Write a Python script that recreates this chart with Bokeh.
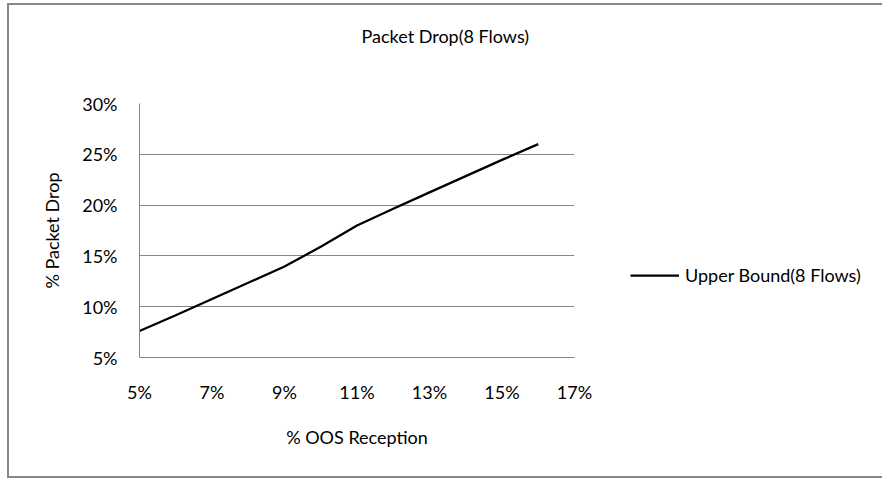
from bokeh.plotting import figure
from bokeh.models import FixedTicker, PrintfTickFormatter, Legend, LegendItem, Title
from bokeh.embed import file_html
from bokeh.resources import INLINE

# % out-of-sequence reception vs. % packet drop, upper bound for 8 flows
oos_pct = [5, 6, 7, 8, 9, 10, 11, 12, 13, 14, 15, 16]
drop_pct = [7.6, 9.15, 10.75, 12.35, 13.95, 15.9, 18.0, 19.65, 21.25, 22.85, 24.45, 26.0]
series_name = "Upper Bound(8 Flows)"

x_ticks = [5, 7, 9, 11, 13, 15, 17]
y_ticks = [5, 10, 15, 20, 25, 30]

FONT = "Lato"
TXT = "18px"
GREY = "#878787"

p = figure(frame_width=435, frame_height=254, x_range=(5, 17), y_range=(5, 30),
           output_backend="svg", toolbar_location=None,
           min_border_left=139, min_border_right=308,
           min_border_top=103, min_border_bottom=121,
           title="Packet Drop(8 Flows)")
p.background_fill_color = "white"
p.border_fill_alpha = 0
p.outline_line_color = None

# chart-area frame (left, top and bottom edges) painted behind the canvas
bar = f"linear-gradient({GREY}, {GREY})"
p.styles = {
    "background": (f"{bar} 7px 3px / 880px 2px no-repeat, "
                   f"{bar} 7px 3px / 2px 475px no-repeat, "
                   f"{bar} 7px 476px / 880px 2px no-repeat, white"),
}

# title, lifted away from the plot area by a blank spacer panel
p.title.text_font = FONT
p.title.text_font_size = TXT
p.title.text_font_style = "normal"
p.title.text_color = "black"
p.title.align = "left"
p.title.offset = 222
p.title.standoff = 10
p.add_layout(Title(text=" ", text_font=FONT, text_font_size=TXT, standoff=28), "above")

# axes
for ax in (p.xaxis[0], p.yaxis[0]):
    ax.major_label_text_font = FONT
    ax.major_label_text_font_size = TXT
    ax.major_label_text_color = "black"
    ax.axis_label_text_font = FONT
    ax.axis_label_text_font_size = TXT
    ax.axis_label_text_font_style = "normal"
    ax.axis_label_text_color = "black"
    ax.major_tick_line_color = None
    ax.minor_tick_line_color = None
    ax.major_tick_out = 0
    ax.major_tick_in = 0
    ax.axis_line_color = GREY
    ax.axis_line_width = 1
    ax.formatter = PrintfTickFormatter(format="%d%%")

p.xaxis.ticker = FixedTicker(ticks=x_ticks)
p.yaxis.ticker = FixedTicker(ticks=y_ticks)
p.xaxis.axis_label = "% OOS Reception"
p.yaxis.axis_label = "% Packet Drop"
p.xaxis.major_label_standoff = 23
p.yaxis.major_label_standoff = 22
p.xaxis.axis_label_standoff = 20
p.yaxis.axis_label_standoff = 16

# grid
p.xgrid.grid_line_color = None
p.ygrid.grid_line_color = GREY
p.ygrid.grid_line_width = 1
p.ygrid.ticker = FixedTicker(ticks=y_ticks)

r = p.line(oos_pct, drop_pct, line_color="black", line_width=2.25)

legend = Legend(items=[LegendItem(label=series_name, renderers=[r])],
                location=(56, 71), padding=0, margin=0,
                glyph_width=49, glyph_height=20, label_height=20,
                label_standoff=6, border_line_color=None,
                background_fill_alpha=0,
                label_text_font=FONT, label_text_font_size=TXT,
                label_text_color="black")
p.add_layout(legend, "right")

open("out.html", "w").write(file_html(p, INLINE))
